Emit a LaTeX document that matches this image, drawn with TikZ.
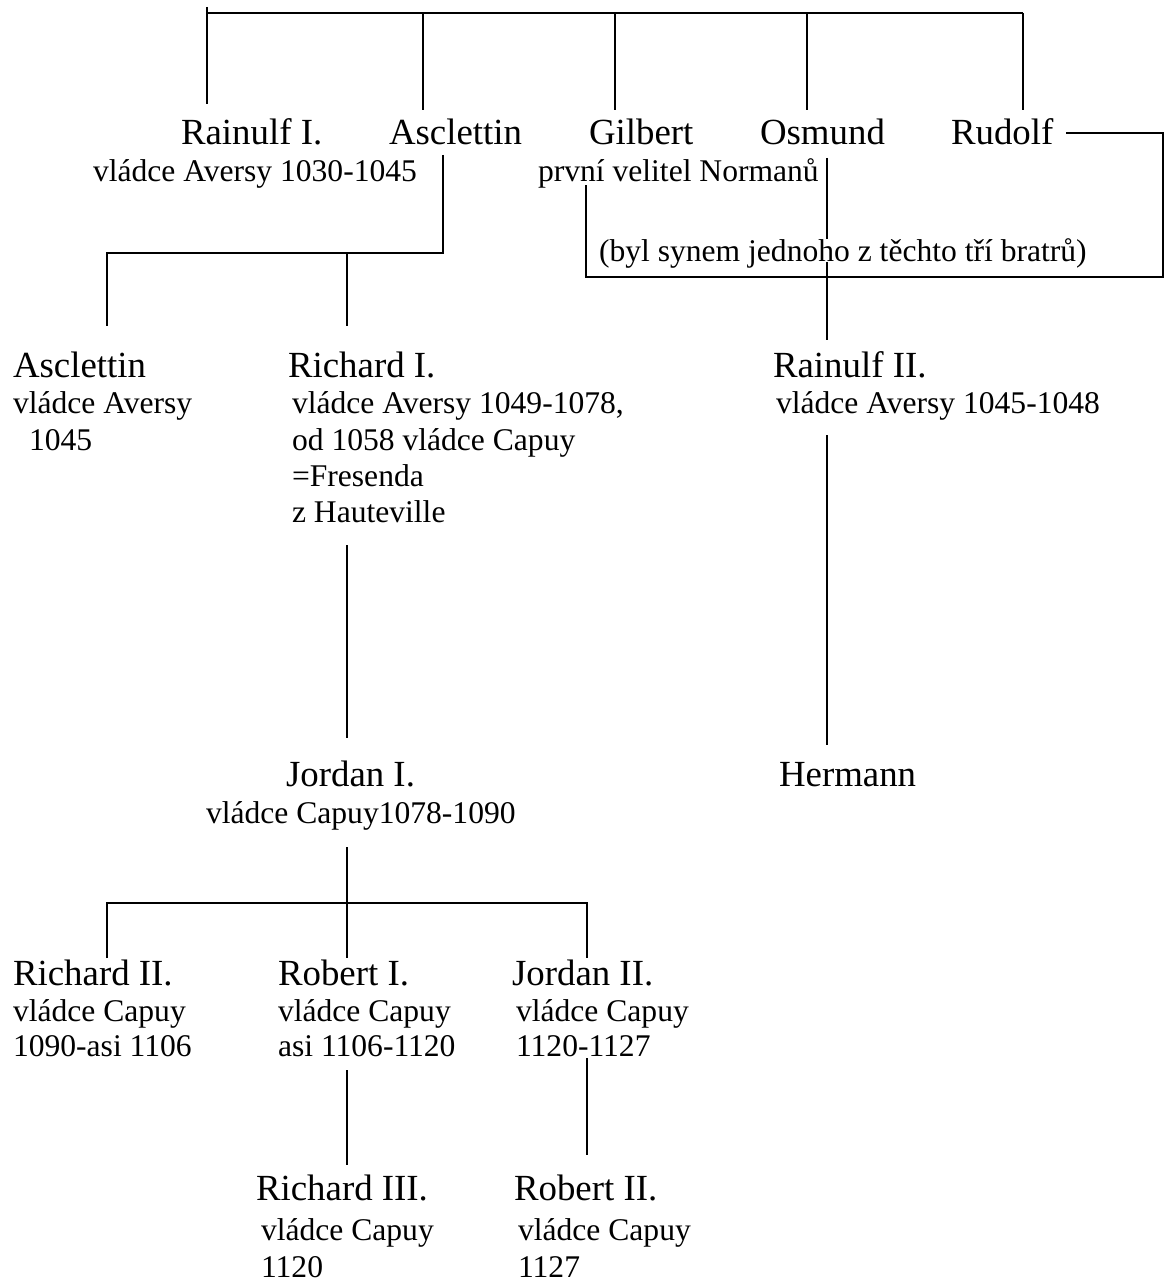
\documentclass[tikz,border=0pt]{standalone}
\usepackage{fontspec}
\setmainfont{Liberation Serif}
\tikzset{person/.style={anchor=base west,inner sep=0pt,font=\fontsize{14}{17}\selectfont},
  detail/.style={anchor=base west,inner sep=0pt,font=\fontsize{12}{14}\selectfont}}

\begin{document}
\begin{tikzpicture}[x=0.38pt,y=-0.38pt,line width=0.8pt]
\useasboundingbox (0,0) rectangle (1164,1284);
\coordinate (bar1) at (207,7);
\coordinate (bar2) at (423,13);
\coordinate (bar3) at (615,13);
\coordinate (bar4) at (807,13);
\coordinate (bar5) at (1023,13);
\coordinate (up1) at (207,104);
\coordinate (up2) at (423,110);
\coordinate (up3) at (615,110);
\coordinate (up4) at (807,110);
\coordinate (up5) at (1023,110);
\draw (bar1 |- bar2) -- (bar5);
\draw (bar1) -- (up1);
\foreach \i in {2,...,5} \draw (bar\i) -- (up\i);
\node[person] (rain1) at (180,145) {Rainulf I.};
\node[person] (ascl) at (388,145) {Asclettin};
\node[person] (gilb) at (588,145) {Gilbert};
\node[person] (osm) at (759,145) {Osmund};
\node[person] (rud) at (950,145) {Rudolf};
\node[detail] (rain1-s) at (92,182) {vládce Aversy 1030-1045};
\node[detail] (gilb-s) at (537,182) {první velitel Normanů};
\coordinate (ascl-d) at (443,155);
\coordinate (ascl-j) at (443,253);
\coordinate (ascl2-u) at (107,326);
\coordinate (rich1-u) at (347,326);
\draw (ascl-d) -- (ascl-j) -| (ascl2-u);
\draw (rich1-u |- ascl-j) -- (rich1-u);
\coordinate (rud-r) at (1066,133);
\coordinate (box-r) at (1163,277);
\coordinate (box-l) at (586,185);
\draw (rud-r) -| (box-r) -| (box-l);
\coordinate (osm-d) at (827,158);
\coordinate (rain2-u) at (827,340);
\draw (osm-d) -- (rain2-u);
\node[detail,fill=white,text depth=0pt] (note) at (598,262) {(byl synem jednoho z těchto tří bratrů)};
\node[person] (ascl2) at (12,378) {Asclettin};
\node[detail] (ascl2-s1) at (12,414) {vládce Aversy};
\node[detail] (ascl2-s2) at (28,450) {1045};
\node[person] (rich1) at (287,378) {Richard I.};
\node[detail] (rich1-s1) at (291,414) {vládce Aversy 1049-1078,};
\node[detail] (rich1-s2) at (291,450) {od 1058 vládce Capuy};
\node[detail] (rich1-s3) at (291,486) {=Fresenda};
\node[detail] (rich1-s4) at (291,522) {z Hauteville};
\node[person] (rain2) at (772,378) {Rainulf II.};
\node[detail] (rain2-s) at (775,414) {vládce Aversy 1045-1048};
\coordinate (rain2-d) at (827,435);
\coordinate (herm-u) at (827,745);
\draw (rain2-d) -- (herm-u);
\coordinate (rich1-d) at (347,545);
\coordinate (jord1-u) at (347,738);
\draw (rich1-d) -- (jord1-u);
\node[person] (jord1) at (285,786) {Jordan I.};
\node[detail] (jord1-s) at (205,823) {vládce Capuy1078-1090};
\node[person] (herm) at (778,786) {Hermann};
\coordinate (jord1-d) at (347,847);
\coordinate (jord1-j) at (347,903);
\coordinate (rich2-u) at (107,958);
\coordinate (rob1-u) at (347,958);
\coordinate (jord2-u) at (587,958);
\draw (jord1-d) -- (rob1-u);
\draw (rich2-u) |- (jord1-j) -| (jord2-u);
\node[person] (rich2) at (12,985) {Richard II.};
\node[detail] (rich2-s1) at (12,1021) {vládce Capuy};
\node[detail] (rich2-s2) at (12,1056) {1090-asi 1106};
\node[person] (rob1) at (277,985) {Robert I.};
\node[detail] (rob1-s1) at (277,1021) {vládce Capuy};
\node[detail] (rob1-s2) at (277,1056) {asi 1106-1120};
\node[person] (jord2) at (511,985) {Jordan II.};
\node[detail] (jord2-s1) at (515,1021) {vládce Capuy};
\node[detail] (jord2-s2) at (515,1056) {1120-1127};
\coordinate (rob1-d) at (347,1070);
\coordinate (rich3-u) at (347,1165);
\coordinate (jord2-d) at (587,1058);
\coordinate (rob2-u) at (587,1155);
\draw (rob1-d) -- (rich3-u);
\draw (jord2-d) -- (rob2-u);
\node[person] (rich3) at (255,1200) {Richard III.};
\node[detail] (rich3-s1) at (260,1240) {vládce Capuy};
\node[detail] (rich3-s2) at (260,1277) {1120};
\node[person] (rob2) at (513,1200) {Robert II.};
\node[detail] (rob2-s1) at (517,1240) {vládce Capuy};
\node[detail] (rob2-s2) at (517,1277) {1127};
\end{tikzpicture}
\end{document}
